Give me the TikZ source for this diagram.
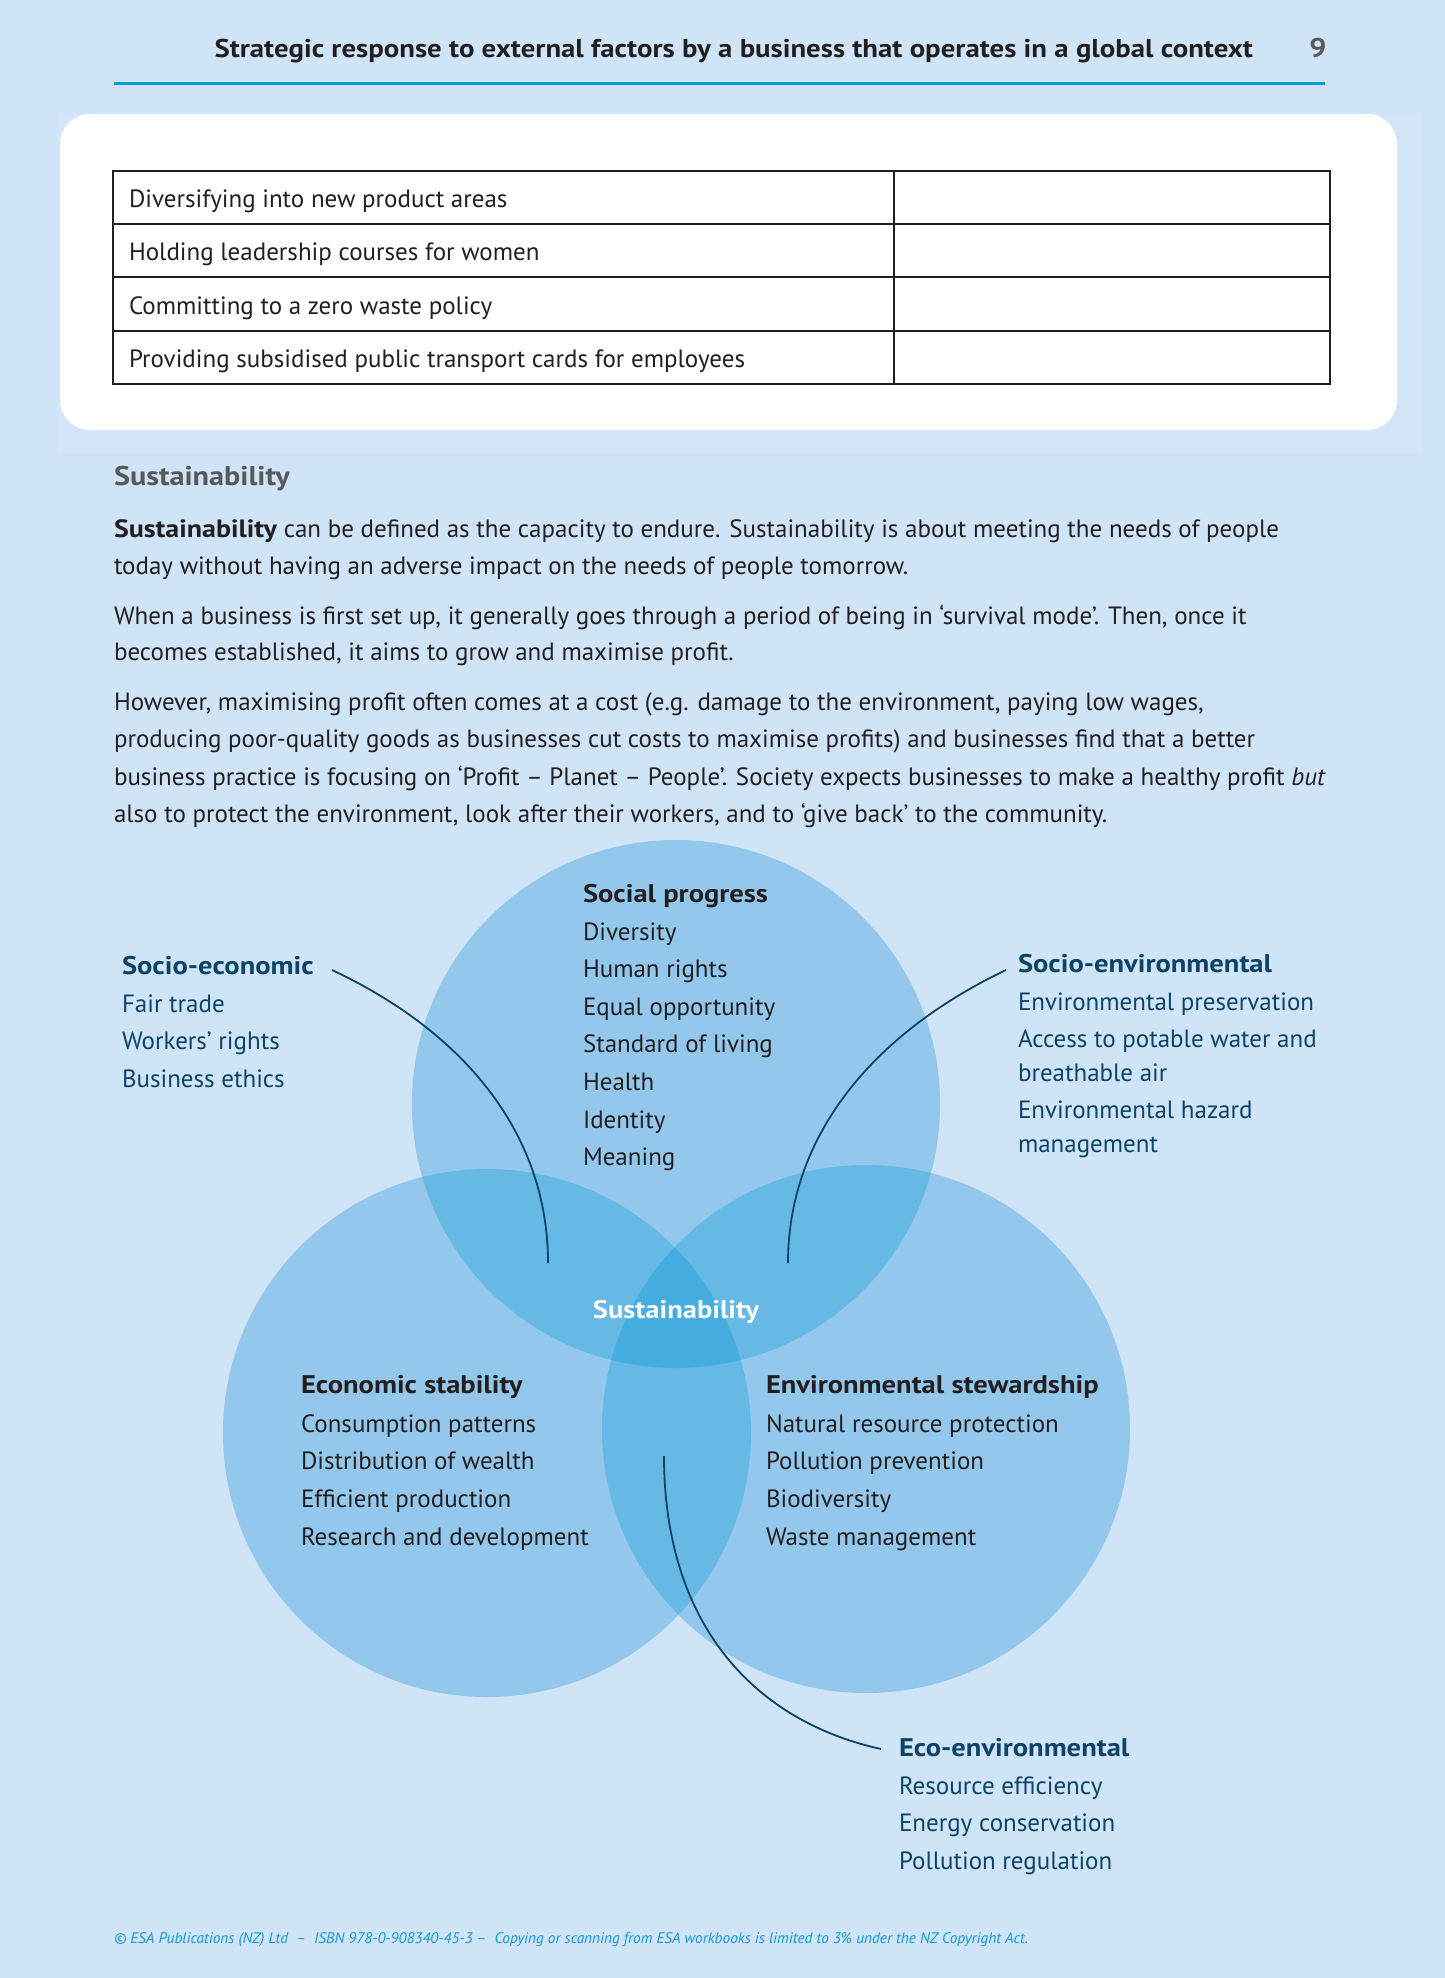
\documentclass[tikz,border=0pt]{standalone}
\usepackage{fontspec}
\setmainfont{PT Sans}[BoldFeatures={FakeStretch=1.12}]
\definecolor{pagebg}{HTML}{CFE4F6}
\definecolor{faintbg}{HTML}{D2E6F7}
\definecolor{bodyc}{HTML}{231F20}
\definecolor{greyc}{HTML}{58595B}
\definecolor{rulec}{HTML}{0A9DDB}
\definecolor{navyc}{HTML}{0C4466}
\definecolor{vone}{HTML}{93C8EC}
\definecolor{vtwo}{HTML}{66B8E5}
\definecolor{vthree}{HTML}{45ADE0}
\definecolor{footc}{HTML}{1697D6}
\begin{document}
\begin{tikzpicture}[x=1pt,y=-1pt,
  base/.style={inner sep=0pt, outer sep=0pt, anchor=west, text height=0.72em, text depth=0.22em, yshift=-5pt},
  body/.style={base, font=\fontsize{25}{30}\selectfont, text=bodyc},
  tbl/.style={base, font=\fontsize{25}{30}\selectfont, text=bodyc},
  hdr/.style={base, font=\bfseries\fontsize{25.7}{30}\selectfont, text=bodyc},
  pagenum/.style={base, anchor=center, font=\bfseries\fontsize{27}{30}\selectfont, text=greyc},
  sechead/.style={base, font=\bfseries\fontsize{27}{30}\selectfont, text=greyc},
  dtext/.style={base, font=\fontsize{25}{30}\selectfont, text=bodyc},
  dhead/.style={base, font=\bfseries\fontsize{25.5}{30}\selectfont, text=bodyc},
  otext/.style={base, font=\fontsize{25}{30}\selectfont, text=navyc},
  ohead/.style={base, font=\bfseries\fontsize{25.5}{30}\selectfont, text=navyc},
  centre/.style={base, anchor=center, font=\bfseries\fontsize{25.5}{30}\selectfont, text=white},
  foot/.style={base, font=\itshape\fontsize{15.3}{18}\selectfont, text=footc},
  conn/.style={draw=navyc, line width=1.8pt},
  tablerule/.style={draw=bodyc, line width=2.4pt},
]
\useasboundingbox (0,0) rectangle (1445,1978);
\fill[pagebg] (0,0) rectangle (1445,1978);

% header
\node[hdr, anchor=east] (title) at (1253,50) {Strategic response to external factors by a business that operates in a global context};
\node[pagenum] (pg) at (1318,50) {9};
\draw[rulec, line width=3pt] (114,83) -- (1325,83);

% activity box
\fill[faintbg] (58,113) rectangle (1422,454);
\fill[white, rounded corners=30pt] (60,114) rectangle (1397,430);
\draw[tablerule] (113,171) rectangle (1330,384);
\draw[tablerule] (113,224) -- (1330,224);
\draw[tablerule] (113,277) -- (1330,277);
\draw[tablerule] (113,331) -- (1330,331);
\draw[tablerule] (894,171) -- (894,384);
\node[tbl] (r1) at (129,200) {Diversifying into new product areas};
\node[tbl] (r2) at (129,253) {Holding leadership courses for women};
\node[tbl] (r3) at (129,307) {Committing to a zero waste policy};
\node[tbl] (r4) at (129,360) {Providing subsidised public transport cards for employees};

% text
\node[sechead] (sh) at (114,478) {Sustainability};
\node[body] (p1) at (114,530) {\textbf{Sustainability} can be defined as the capacity to endure. Sustainability is about meeting the needs of people};
\node[body] (p2) at (114,567) {today without having an adverse impact on the needs of people tomorrow.};
\node[body] (p3) at (114,617) {When a business is first set up, it generally goes through a period of being in ‘survival mode’. Then, once it};
\node[body] (p4) at (114,653) {becomes established, it aims to grow and maximise profit.};
\node[body] (p5) at (114,703) {However, maximising profit often comes at a cost (e.g. damage to the environment, paying low wages,};
\node[body] (p6) at (114,740) {producing poor-quality goods as businesses cut costs to maximise profits) and businesses find that a better};
\node[body] (p7) at (114,778) {business practice is focusing on ‘Profit – Planet – People’. Society expects businesses to make a healthy profit \textit{but}};
\node[body] (p8) at (114,815) {also to protect the environment, look after their workers, and to ‘give back’ to the community.};

% venn
\coordinate (cT) at (676,1104);
\coordinate (cL) at (487,1433);
\coordinate (cR) at (866,1429);
\fill[vone] (cT) circle[radius=264pt];
\fill[vone] (cL) circle[radius=264pt];
\fill[vone] (cR) circle[radius=264pt];
\begin{scope}
  \clip (cT) circle[radius=264pt];
  \fill[vtwo] (cL) circle[radius=264pt];
  \fill[vtwo] (cR) circle[radius=264pt];
\end{scope}
\begin{scope}
  \clip (cL) circle[radius=264pt];
  \fill[vtwo] (cR) circle[radius=264pt];
\end{scope}
\begin{scope}
  \clip (cT) circle[radius=264pt];
  \clip (cL) circle[radius=264pt];
  \fill[vthree] (cR) circle[radius=264pt];
\end{scope}

\node[centre] (sus) at (676,1311) {Sustainability};

% social progress
\node[dhead] (sp0) at (583,895) {Social progress};
\node[dtext] (sp1) at (583,933) {Diversity};
\node[dtext] (sp2) at (583,970) {Human rights};
\node[dtext] (sp3) at (583,1008) {Equal opportunity};
\node[dtext] (sp4) at (583,1045) {Standard of living};
\node[dtext] (sp5) at (583,1083) {Health};
\node[dtext] (sp6) at (583,1121) {Identity};
\node[dtext] (sp7) at (583,1158) {Meaning};

% economic stability
\node[dhead] (es0) at (301,1386) {Economic stability};
\node[dtext] (es1) at (301,1425) {Consumption patterns};
\node[dtext] (es2) at (301,1462) {Distribution of wealth};
\node[dtext] (es3) at (301,1500) {Efficient production};
\node[dtext] (es4) at (301,1538) {Research and development};

% environmental stewardship
\node[dhead] (ev0) at (766,1386) {Environmental stewardship};
\node[dtext] (ev1) at (766,1425) {Natural resource protection};
\node[dtext] (ev2) at (766,1462) {Pollution prevention};
\node[dtext] (ev3) at (766,1500) {Biodiversity};
\node[dtext] (ev4) at (766,1538) {Waste management};

% socio-economic
\node[ohead] (se0) at (122,967) {Socio-economic};
\node[otext] (se1) at (122,1005) {Fair trade};
\node[otext] (se2) at (122,1042) {Workers’ rights};
\node[otext] (se3) at (122,1080) {Business ethics};

% socio-environmental
\node[ohead] (sv0) at (1018,965) {Socio-environmental};
\node[otext] (sv1) at (1018,1003) {Environmental preservation};
\node[otext] (sv2) at (1018,1040) {Access to potable water and};
\node[otext] (sv3) at (1018,1074) {breathable air};
\node[otext] (sv4) at (1018,1111) {Environmental hazard};
\node[otext] (sv5) at (1018,1145) {management};

% eco-environmental
\node[ohead] (ee0) at (899,1749) {Eco-environmental};
\node[otext] (ee1) at (899,1787) {Resource efficiency};
\node[otext] (ee2) at (899,1824) {Energy conservation};
\node[otext] (ee3) at (899,1862) {Pollution regulation};

% connectors
\coordinate (seA) at (332,970);
\coordinate (seB) at (548,1263);
\coordinate (svA) at (1006,970);
\coordinate (svB) at (788,1263);
\coordinate (eeA) at (664,1456);
\coordinate (eeB) at (881,1749);
\draw[conn] (seA) .. controls (460,1030) and (548,1130) .. (seB);
\draw[conn] (svA) .. controls (880,1030) and (788,1130) .. (svB);
\draw[conn] (eeA) .. controls (664,1620) and (750,1720) .. (eeB);

% footer
\node[foot] (ft) at (114,1936) {© ESA Publications (NZ) Ltd \ – \ ISBN 978-0-908340-45-3 – \ Copying or scanning from ESA workbooks is limited to 3\% under the NZ Copyright Act.};
\end{tikzpicture}
\end{document}
